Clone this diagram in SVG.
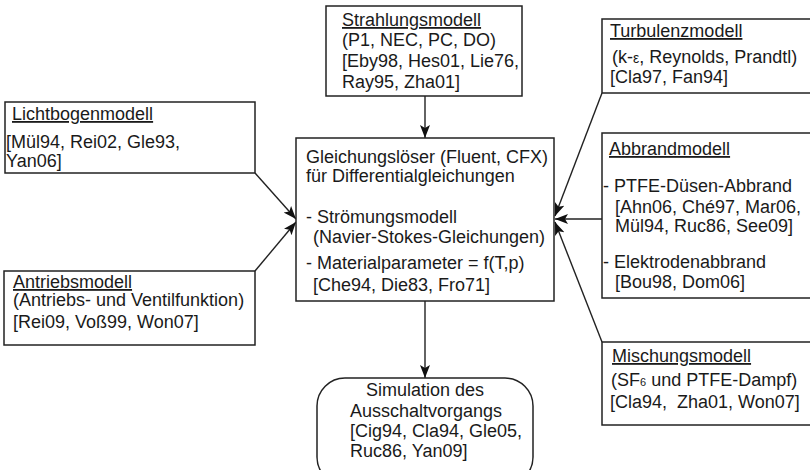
<svg xmlns="http://www.w3.org/2000/svg" width="810" height="470" viewBox="0 0 810 470">
<defs>
<style>
text{font-family:"Liberation Sans",Arial,sans-serif;font-size:18px;fill:#1a1a1a;white-space:pre}
.box{fill:#fff;stroke:#222;stroke-width:1.5}
.t{text-decoration:underline}
.c{text-anchor:middle}
.con{stroke:#222;stroke-width:1.4;fill:none;marker-end:url(#ah)}
</style>
<marker id="ah" markerUnits="userSpaceOnUse" markerWidth="14" markerHeight="12" refX="13" refY="5" orient="auto" viewBox="0 0 14 10">
<path d="M0,0 L13,5 L0,10 L3,5 z" fill="#111"/>
</marker>
</defs>
<rect width="810" height="470" fill="#fff"/>
<g id="connectors">
<line class="con" x1="425" y1="96" x2="425" y2="138"/>
<line class="con" x1="255" y1="173" x2="296" y2="219"/>
<line class="con" x1="255" y1="271" x2="296" y2="222"/>
<line class="con" x1="602" y1="93" x2="555" y2="216"/>
<line class="con" x1="602" y1="219" x2="555" y2="219"/>
<line class="con" x1="602" y1="342" x2="555" y2="222"/>
<line class="con" x1="425" y1="301" x2="425" y2="378"/>
</g>
<g id="strahlung">
<rect class="box" x="326" y="6" width="196" height="90"/>
<text x="342" y="26" class="t">Strahlungsmodell</text>
<text x="342" y="46">(P1, NEC, PC, DO)</text>
<text x="342" y="67">[Eby98, Hes01, Lie76,</text>
<text x="342" y="88">Ray95, Zha01]</text>
</g>
<g id="turbulenz">
<rect class="box" x="602" y="19" width="215" height="74"/>
<text x="610" y="37" class="t">Turbulenzmodell</text>
<text x="612" y="63">(k-<tspan font-size="14">ε</tspan>, Reynolds, Prandtl)</text>
<text x="610" y="83">[Cla97, Fan94]</text>
</g>
<g id="lichtbogen">
<rect class="box" x="5" y="102" width="250" height="71"/>
<text x="12" y="120" class="t">Lichtbogenmodell</text>
<text x="6" y="148">[Mül94, Rei02, Gle93,</text>
<text x="6" y="167">Yan06]</text>
</g>
<g id="antrieb">
<rect class="box" x="4" y="271" width="251" height="74"/>
<text x="13" y="288" class="t">Antriebsmodell</text>
<text x="13" y="306">(Antriebs- und Ventilfunktion)</text>
<text x="13" y="328">[Rei09, Voß99, Won07]</text>
</g>
<g id="abbrand">
<rect class="box" x="602" y="133" width="215" height="165"/>
<text x="609" y="155" class="t">Abbrandmodell</text>
<text x="603" y="192">- PTFE-Düsen-Abbrand</text>
<text x="615" y="213">[Ahn06, Ché97, Mar06,</text>
<text x="615" y="232">Mül94, Ruc86, See09]</text>
<text x="603" y="268">- Elektrodenabbrand</text>
<text x="615" y="288">[Bou98, Dom06]</text>
</g>
<g id="mischung">
<rect class="box" x="602" y="342" width="215" height="83"/>
<text x="612" y="362" class="t">Mischungsmodell</text>
<text x="611" y="386">(SF<tspan font-size="11">6</tspan> und PTFE-Dampf)</text>
<text x="610" y="408">[Cla94,  Zha01, Won07]</text>
</g>
<g id="solver">
<rect class="box" x="296" y="138" width="258" height="163"/>
<text x="306" y="163">Gleichungslöser (Fluent, CFX)</text>
<text x="306" y="182">für Differentialgleichungen</text>
<text x="306" y="223">- Strömungsmodell</text>
<text x="313" y="243">(Navier-Stokes-Gleichungen)</text>
<text x="306" y="269">- Materialparameter = f(T,p)</text>
<text x="313" y="291">[Che94, Die83, Fro71]</text>
</g>
<g id="simulation">
<rect class="box" x="317" y="378" width="216" height="107" rx="28" ry="28"/>
<text x="425" y="396" class="c">Simulation des</text>
<text x="426" y="417" class="c">Ausschaltvorgangs</text>
<text x="350" y="437">[Cig94, Cla94, Gle05,</text>
<text x="350" y="457">Ruc86, Yan09]</text>
</g>
</svg>
